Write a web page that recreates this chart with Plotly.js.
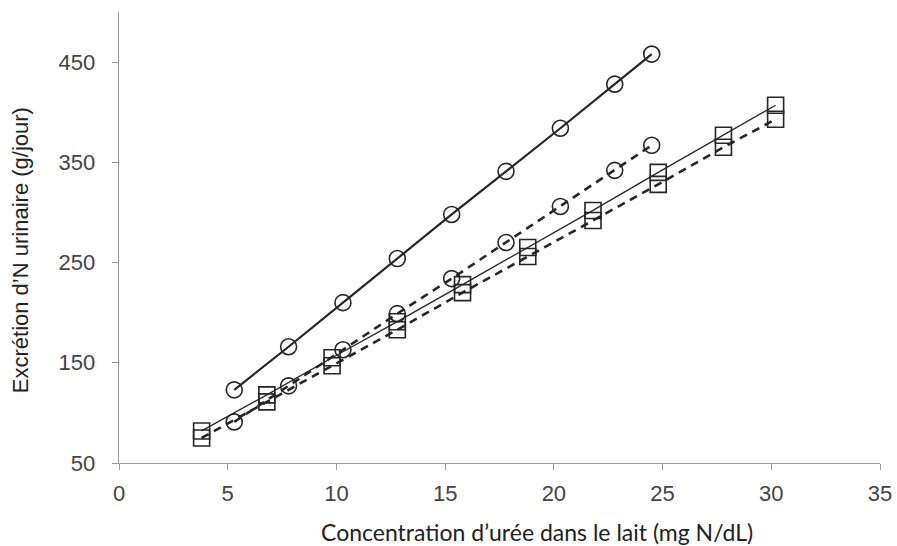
<!DOCTYPE html>
<html><head><meta charset="utf-8">
<script src="https://cdn.plot.ly/plotly-3.0.1.min.js"></script>
<style>body{margin:0;background:#fff}#c{width:897px;height:546px}</style>
</head><body><div id="c"></div>
<script>
const xCircle = [5.3, 7.8, 10.3, 12.8, 15.3, 17.8, 20.3, 22.8, 24.5];
const yCircleSolid = [123, 166, 210, 254, 298, 341, 384, 428, 458];
const yCircleDash = [91, 127, 163, 199, 234, 270, 306, 342, 367];
const xSquare = [3.8, 6.8, 9.8, 12.8, 15.8, 18.8, 21.8, 24.8, 27.8, 30.2];
const ySquareSolid = [82, 118, 155, 191, 228, 265, 302, 340, 377, 407];
const ySquareDash = [75, 111, 147, 183, 220, 256, 292, 328, 365, 393];
const xTicks = [0, 5, 10, 15, 20, 25, 30, 35];
const yTicks = [50, 150, 250, 350, 450];
const xTitle = 'Concentration d’urée dans le lait (mg N/dL)';
const yTitle = 'Excrétion d’N urinaire (g/jour)';

const ink = '#262626';
function tr(x, y, sym, width, dash){
  return {x:x, y:y, type:'scatter', mode:'lines+markers',
    line:{color:ink, width:width, dash:dash},
    marker:{symbol:sym, size:16, color:ink, line:{color:ink, width:1.6}},
    showlegend:false, cliponaxis:false};
}
const data = [
  tr(xSquare, ySquareDash, 'square-open', 2.6, '8px,6px'),
  tr(xSquare, ySquareSolid, 'square-open', 1.3, 'solid'),
  tr(xCircle, yCircleDash, 'circle-open', 2.6, '8px,6px'),
  tr(xCircle, yCircleSolid, 'circle-open', 2.2, 'solid')
];
const tf = {family:'Arial', size:22, color:'#444'};
const layout = {
  width:897, height:546,
  margin:{l:119, r:17, t:12, b:83},
  paper_bgcolor:'#fff', plot_bgcolor:'#fff',
  font:{family:'Arial'},
  xaxis:{range:[0,35], tickvals:xTicks, ticktext:xTicks.map(String),
    showgrid:false, zeroline:false, showline:true, linecolor:'#999', linewidth:1.3,
    ticks:'outside', ticklen:6, tickcolor:'#999', tickwidth:1, ticklabelstandoff:4,
    tickfont:tf},
  yaxis:{range:[50,500], tickvals:yTicks, ticktext:yTicks.map(String),
    showgrid:false, zeroline:false, showline:true, linecolor:'#999', linewidth:1.3,
    ticks:'outside', ticklen:6, tickcolor:'#999', tickwidth:1, ticklabelstandoff:12,
    tickfont:tf},
  annotations:[
    {text:xTitle, xref:'paper', yref:'paper', x:0.549, y:-0.152, xanchor:'center', yanchor:'middle',
     showarrow:false, font:{family:'Lato', size:23, color:'#222'}},
    {text:yTitle, xref:'paper', yref:'paper', x:-0.13, y:0.472, xanchor:'center', yanchor:'middle',
     textangle:-90, showarrow:false, font:{family:'Arial', size:22, color:'#222'}}
  ]
};
Plotly.newPlot('c', data, layout, {displayModeBar:false, staticPlot:true});
</script></body></html>
